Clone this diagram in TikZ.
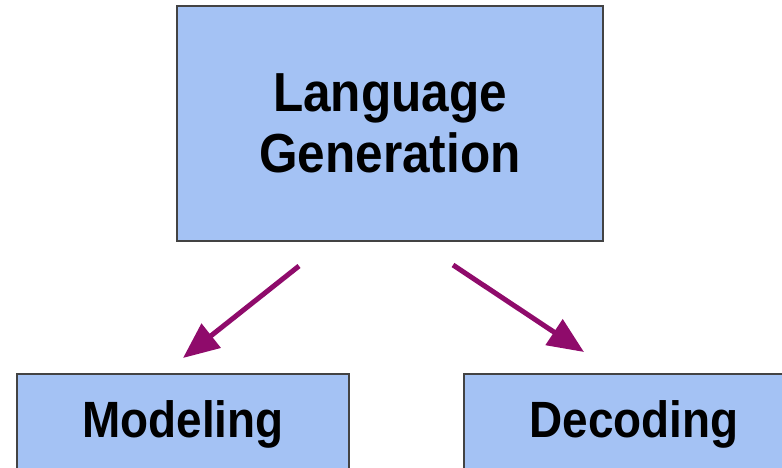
\documentclass[tikz,border=0pt]{standalone}
\usepackage{fontspec}
\setmainfont[FakeStretch=0.9]{Liberation Sans}
\usetikzlibrary{arrows.meta}

\definecolor{boxblue}{HTML}{A4C2F4}
\definecolor{boxline}{HTML}{434343}
\definecolor{arrowpurple}{HTML}{8F0B6B}

\tikzset{
  topicbox/.style={draw=boxline, line width=1.5pt, fill=boxblue, inner sep=0pt,
    align=center},
  bigtext/.style={font=\fontsize{55}{61}\selectfont\bfseries},
  smalltext/.style={font=\fontsize{51}{60}\selectfont\bfseries},
  pointer/.style={arrowpurple, line width=5pt,
    -{Triangle[length=36pt, width=30pt]}}
}

\begin{document}
\begin{tikzpicture}[x=1pt, y=-1pt]

\useasboundingbox (0,0) rectangle (782,468);
\clip (0,0) rectangle (782,468);

% Boxes
\node[topicbox, bigtext, minimum width=426pt, minimum height=235pt] (gen) at (390,123.5) {Language\\Generation};
\node[topicbox, smalltext, minimum width=332pt, minimum height=100pt] (model) at (183,424) {Modeling};
\node[topicbox, smalltext, minimum width=340pt, minimum height=100pt] (decode) at (634,424) {Decoding};

% Arrow ends
\coordinate (lstart) at (299,266);
\coordinate (ltip) at (183,358);
\coordinate (rstart) at (453,265);
\coordinate (rtip) at (584,352);

% Arrows
\draw[pointer] (lstart) -- (ltip);
\draw[pointer] (rstart) -- (rtip);

\end{tikzpicture}
\end{document}
